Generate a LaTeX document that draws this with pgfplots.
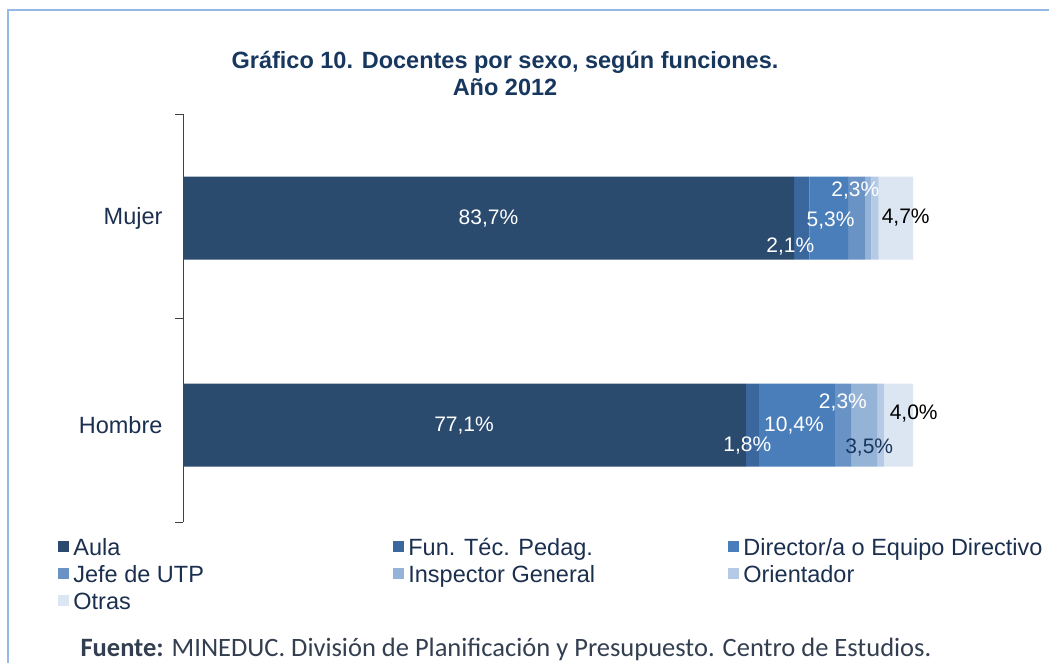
\documentclass[border=0pt]{standalone}
\usepackage{fontspec}
\setmainfont{Liberation Sans}
\newfontfamily\carlito{Carlito}
\usepackage{pgfplots}
\pgfplotsset{compat=1.18}
\definecolor{cAula}{HTML}{2A4A6E}
\definecolor{cFun}{HTML}{3B679F}
\definecolor{cDir}{HTML}{4A7EBB}
\definecolor{cJefe}{HTML}{6A93C5}
\definecolor{cInsp}{HTML}{95B3D7}
\definecolor{cOri}{HTML}{B5CAE4}
\definecolor{cOtras}{HTML}{DCE6F2}
\definecolor{frame}{HTML}{95B8E6}
\definecolor{titleblue}{HTML}{17375E}
\definecolor{labelblue}{HTML}{1B2F4F}
\definecolor{axisgray}{HTML}{404040}
\definecolor{fuente}{HTML}{333F50}
\begin{document}
\begin{tikzpicture}[lab/.style={font=\fontsize{21}{25}\selectfont, inner sep=0pt}]
\useasboundingbox (0pt,0pt) rectangle (1049pt,663pt);
\draw[color=frame, line width=1.2pt] (8pt,0pt) -- (8pt,653pt) -- (1049pt,653pt);
\node[font=\fontsize{23.5}{27}\selectfont\bfseries, text=titleblue, align=center] at (505pt,589pt) {Gráfico 10. Docentes por sexo, según funciones.\\Año 2012};
\begin{axis}[
  at={(183pt,141pt)}, anchor=south west,
  width=730pt, height=408pt, scale only axis,
  xbar stacked, bar width=83pt,
  xmin=0, xmax=100, ymin=-0.5, ymax=1.5,
  clip=false,
  axis x line=none, axis y line*=left,
  axis line style={-, draw=axisgray},
  ytick={-0.025,0.99}, yticklabels={Hombre,Mujer},
  major tick length=0pt,
  minor ytick={-0.5,0.5,1.5}, minor tick length=8pt,
  tick align=outside, tick style={draw=axisgray},
  yticklabel style={font=\fontsize{23.5}{27}\selectfont, text=labelblue, xshift=-17pt},
  legend columns=3,
  legend cell align=left,
  legend style={at={(-0.171,-0.035)}, anchor=north west, draw=none, fill=none,
    font=\fontsize{23.5}{27}\selectfont, text=labelblue,
    row sep=4.5pt, inner sep=0pt,
    /tikz/every even column/.append style={column sep=0pt}},
  legend image code/.code={\fill[#1] (0pt,-4pt) rectangle (11pt,7pt);},
  every axis plot/.append style={draw=none},
]
\addplot[fill=cAula] coordinates {(83.7,0.99) (77.1,-0.025)};
\addplot[fill=cFun] coordinates {(2.1,0.99) (1.8,-0.025)};
\addplot[fill=cDir] coordinates {(5.3,0.99) (10.4,-0.025)};
\addplot[fill=cJefe] coordinates {(2.3,0.99) (2.3,-0.025)};
\addplot[fill=cInsp] coordinates {(0.9,0.99) (3.5,-0.025)};
\addplot[fill=cOri] coordinates {(1.0,0.99) (0.9,-0.025)};
\addplot[fill=cOtras] coordinates {(4.7,0.99) (4.0,-0.025)};
\legend{\makebox[320pt][l]{\hspace{2pt}Aula},\makebox[320pt][l]{\hspace{2pt}Fun. Téc. Pedag.},\hspace{2pt}Director/a o Equipo Directivo,\makebox[320pt][l]{\hspace{2pt}Jefe de UTP},\makebox[320pt][l]{\hspace{2pt}Inspector General},\hspace{2pt}Orientador,\hspace{2pt}Otras}
\coordinate (m1) at (axis cs:41.85,0.99);
\coordinate (m2) at (axis cs:92.1,1.1225);
\coordinate (m3) at (axis cs:88.7,0.980);
\coordinate (m4) at (axis cs:83.2,0.848);
\coordinate (m5) at (axis cs:99.0,0.990);
\coordinate (h1) at (axis cs:38.5,-0.025);
\coordinate (h2) at (axis cs:90.4,0.088);
\coordinate (h3) at (axis cs:83.7,-0.025);
\coordinate (h4) at (axis cs:77.3,-0.127);
\coordinate (h5) at (axis cs:94.0,-0.137);
\coordinate (h6) at (axis cs:100.1,0.034);
\end{axis}
\node[lab, white] at (m1) {83,7\%};
\node[lab, white] at (m2) {2,3\%};
\node[lab, white] at (m3) {5,3\%};
\node[lab, white] at (m4) {2,1\%};
\node[lab, black] at (m5) {4,7\%};
\node[lab, white] at (h1) {77,1\%};
\node[lab, white] at (h2) {2,3\%};
\node[lab, white] at (h3) {10,4\%};
\node[lab, white] at (h4) {1,8\%};
\node[lab, text=titleblue] at (h5) {3,5\%};
\node[lab, black] at (h6) {4,0\%};
\node[anchor=base west, font=\carlito\fontsize{26.5}{30}\selectfont, text=fuente] at (77pt,6pt) {\textbf{Fuente:} MINEDUC. División de Planificación y Presupuesto. Centro de Estudios.};
\end{tikzpicture}
\end{document}
